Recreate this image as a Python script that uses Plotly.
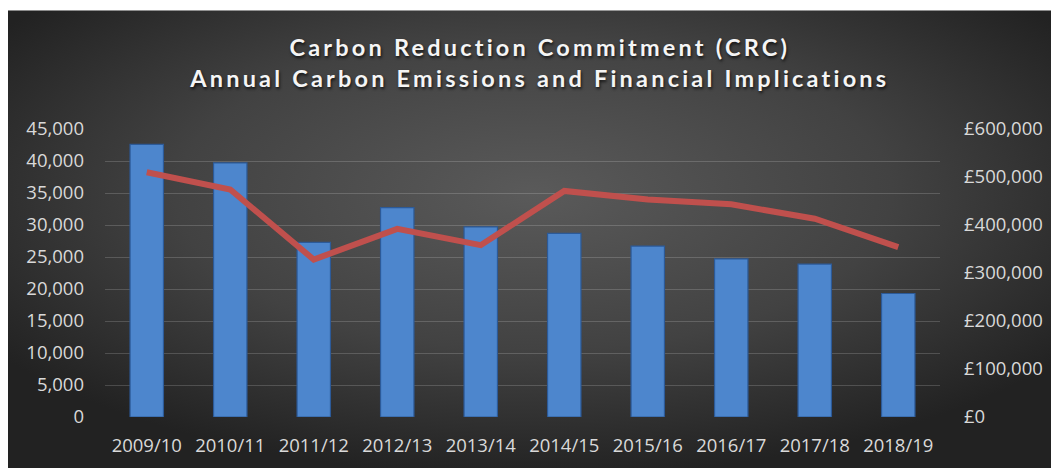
import base64
import plotly.graph_objects as go

years = ["2009/10", "2010/11", "2011/12", "2012/13", "2013/14",
         "2014/15", "2015/16", "2016/17", "2017/18", "2018/19"]
emissions = [42600, 39700, 27300, 32700, 29700, 28700, 26700, 24700, 23900, 19300]
cost_gbp = [510000, 474000, 328000, 392000, 358000, 471000, 453000, 443000, 413000, 354000]

W, H = 1051, 460
L, R, T, B = 97, 119, 120.7, 51.3
pw, ph = W - L - R, H - T - B
TOPGAP = 2

svg = (
    '<svg xmlns="http://www.w3.org/2000/svg" width="1051" height="458" '
    'viewBox="0 0 1051 458" preserveAspectRatio="none"><defs>'
    '<radialGradient id="g" cx="0.5" cy="0.4" r="0.62">'
    '<stop offset="0" stop-color="#5a5a5a"/><stop offset="0.55" stop-color="#424242"/>'
    '<stop offset="1" stop-color="#222222"/></radialGradient></defs>'
    '<rect width="1051" height="458" fill="url(#g)"/></svg>'
)
bg_src = "data:image/svg+xml;base64," + base64.b64encode(svg.encode()).decode()

fig = go.Figure()
fig.add_trace(go.Bar(
    x=years, y=emissions, name="Carbon emissions",
    marker=dict(color="#4d86cd", line=dict(color="#2c5a98", width=1.2)),
    width=0.4,
))
fig.add_trace(go.Scatter(
    x=years, y=cost_gbp, yaxis="y2", mode="lines", name="Cost",
    line=dict(color="#c0504d", width=6),
))

sp = '<span style="letter-spacing:3.2px">'
title_text = (sp + "Carbon Reduction Commitment (CRC)</span><br>" +
              sp + "Annual Carbon Emissions and Financial Implications</span>")

tick_font = dict(family="Open Sans", size=18.5, color="#d9d9d9")
fig.update_layout(
    width=W, height=H,
    margin=dict(l=L, r=R, t=T, b=B, pad=0),
    paper_bgcolor="white",
    plot_bgcolor="rgba(0,0,0,0)",
    showlegend=False,
    title=dict(
        text=title_text,
        x=0.506, xanchor="center", xref="container",
        y=1 - 48 / H, yanchor="top", yref="container",
        font=dict(family="Lato", size=23.5, color="#f5f5f5", weight="bold",
                  shadow="1px 2px 3px rgba(0,0,0,0.7)"),
    ),
    xaxis=dict(
        tickfont=tick_font, showgrid=False, showline=False, zeroline=False,
        ticks="", ticklabelstandoff=15,
    ),
    yaxis=dict(
        range=[0, 45000], dtick=5000, tickformat=",d",
        tickfont=tick_font, showgrid=True, gridcolor="rgba(255,255,255,0.17)",
        gridwidth=1.3, zeroline=False, showline=False, ticks="",
        ticklabelstandoff=20,
    ),
    yaxis2=dict(
        range=[0, 600000], dtick=100000, tickprefix="£", tickformat=",d",
        overlaying="y", side="right", tickfont=tick_font,
        showgrid=False, zeroline=False, showline=False, ticks="",
        ticklabelstandoff=23,
    ),
    images=[dict(
        source=bg_src, xref="paper", yref="paper",
        x=-L / pw, y=(H - B - TOPGAP) / ph,
        sizex=W / pw, sizey=(H - TOPGAP) / ph,
        xanchor="left", yanchor="top", sizing="stretch", layer="below",
    )],
)

fig.write_html("out.html")
